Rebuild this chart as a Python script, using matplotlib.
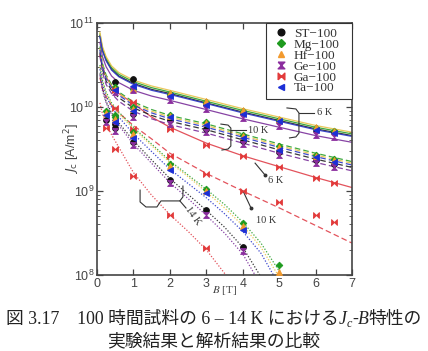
import matplotlib.pyplot as plt
from matplotlib.lines import Line2D

plt.rcParams['font.family'] = ['Liberation Sans', 'DejaVu Sans']

# samples, legend and colours
samples = ["ST-100", "Mg-100", "Hf-100", "Ge-100", "Ga-100", "Ta-100"]
legend_labels = ["ST\u2212100", "Mg\u2212100", "Hf\u2212100", "Ge\u2212100", "Ga\u2212100", "Ta\u2212100"]
mark_colors = ["#111111", "#1e9a1e", "#f29a2e", "#8b2d9e", "#e23a3a", "#1c2fd6"]
line_colors = ["#222222", "#2aa02a", "#e8c24a", "#7a2f9a", "#e0404a", "#2a36c8"]
bowtie = [(-1, -1), (-1, 1), (1, -1), (1, 1), (-1, -1)]
hourglass = [(-1, 1), (1, 1), (-1, -1), (1, -1), (-1, 1)]
markers = ["o", "D", "^", hourglass, bowtie, "<"]
msizes = [4.2, 3.4, 4.2, 4.2, 4.2, 4.2]

nan = float("nan")

# analysis results, Jc in 1e9 A/m^2
b_fit = [0.08, 0.15, 0.25, 0.4, 0.6, 1.0, 1.5, 2, 3, 4, 5, 6, 7]
fit_6k = {
    "ST-100": [70.8, 47.9, 36.3, 28.2, 23.4, 19.1, 16.2, 14.5, 11.2, 8.71, 6.92, 5.50, 4.57],
    "Mg-100": [74.1, 50.1, 38.0, 29.5, 24.5, 20.0, 17.0, 15.1, 11.7, 9.12, 7.24, 5.75, 4.79],
    "Hf-100": [77.6, 52.5, 39.8, 30.9, 25.7, 20.9, 17.8, 15.8, 12.3, 9.55, 7.59, 6.03, 5.01],
    "Ge-100": [58.9, 39.8, 30.2, 23.4, 19.5, 15.8, 13.5, 12.0, 9.33, 7.24, 5.75, 4.57, 3.80],
    "Ga-100": [41.7, 30.2, 22.9, 17.8, 14.5, 11.0, 7.59, 5.75, 3.72, 2.63, 1.95, 1.45, 1.10],
    "Ta-100": [69.2, 46.8, 35.5, 27.5, 22.9, 18.6, 15.8, 14.1, 11.0, 8.51, 6.76, 5.37, 4.47],
}
fit_10k = {
    "ST-100": [44.7, 28.2, 20.4, 15.8, 12.9, 9.77, 7.94, 6.76, 5.37, 4.07, 3.09, 2.40, 1.91],
    "Mg-100": [52.5, 33.1, 24.0, 18.6, 15.1, 11.5, 9.33, 7.94, 6.31, 4.79, 3.63, 2.82, 2.24],
    "Hf-100": [50.1, 31.6, 22.9, 17.8, 14.5, 11.0, 8.91, 7.59, 6.03, 4.57, 3.47, 2.69, 2.14],
    "Ge-100": [40.7, 25.7, 18.6, 14.5, 11.7, 8.91, 7.24, 6.17, 4.90, 3.72, 2.82, 2.19, 1.74],
    "Ga-100": [22.4, 16.6, 13.2, 10.5, 8.51, 6.03, 4.17, 2.82, 1.62, 1.00, 0.631, 0.389, 0.240],
    "Ta-100": [47.9, 30.2, 21.9, 17.0, 13.8, 10.5, 8.51, 7.24, 5.75, 4.37, 3.31, 2.57, 2.04],
}
b_fit_14k = [0.08, 0.15, 0.25, 0.4, 0.6, 1.0, 1.5, 2, 2.5, 3, 3.5, 4, 4.5, 5, 5.3]
fit_14k = {
    "ST-100": [25.1, 16.6, 11.7, 8.51, 6.46, 3.98, 2.34, 1.41, 0.912, 0.589, 0.372, 0.214, 0.095, 0.032, 0.016],
    "Mg-100": [31.6, 20.9, 15.1, 11.2, 8.71, 5.75, 3.63, 2.29, 1.55, 1.05, 0.692, 0.427, 0.240, 0.112, 0.063],
    "Hf-100": [30.2, 20.0, 14.5, 10.7, 8.32, 5.50, 3.47, 2.19, 1.48, 0.977, 0.631, 0.389, 0.214, 0.095, 0.050],
    "Ge-100": [24.0, 15.8, 11.2, 8.13, 6.03, 3.63, 2.14, 1.26, 0.813, 0.513, 0.316, 0.178, 0.076, 0.025, 0.013],
    "Ga-100": [11.2, 8.32, 6.31, 4.68, 3.31, 1.66, 0.891, 0.525, 0.331, 0.200, 0.105, 0.050, 0.025, 0.013, 0.010],
    "Ta-100": [28.2, 18.6, 13.5, 10.0, 7.59, 4.79, 2.95, 1.82, 1.23, 0.832, 0.537, 0.331, 0.182, 0.076, 0.040],
}

# experimental results, Jc in 1e9 A/m^2
b_meas = [0.5, 1, 2, 3, 4, 5, 6, 6.5]
meas_6k = {
    "ST-100": [20.0, 21.4, 13.8, 11.0, 8.51, 6.76, 5.37, 5.01],
    "Mg-100": [17.4, 16.2, 14.1, 11.5, 8.91, 7.08, 5.62, 5.13],
    "Hf-100": [16.6, 16.6, 14.5, 11.7, 9.12, 7.24, 5.75, 5.25],
    "Ge-100": [15.1, 15.8, 12.0, 9.55, 7.41, 5.89, 4.68, 4.37],
    "Ga-100": [15.8, 11.5, 5.50, 3.55, 2.63, 1.95, 1.41, 1.26],
    "Ta-100": [15.8, 17.8, 13.5, 10.7, 8.32, 6.76, 5.37, 4.90],
}
meas_10k = {
    "ST-100": [6.31, 8.32, 6.92, 5.50, 3.98, 2.88, 2.34, 2.09],
    "Mg-100": [7.94, 10.0, 7.94, 6.61, 4.68, 3.39, 2.69, 2.40],
    "Hf-100": [7.59, 9.55, 7.76, 6.46, 4.57, 3.31, 2.63, 2.34],
    "Ge-100": [6.03, 7.59, 6.31, 5.01, 3.63, 2.69, 2.14, 1.91],
    "Ga-100": [9.77, 5.50, 2.63, 1.58, 1.00, 0.741, 0.513, 0.427],
    "Ta-100": [7.08, 8.91, 7.59, 6.17, 4.27, 3.09, 2.51, 2.24],
}
b_meas_14k = [0.25, 0.5, 1, 2, 3, 4, 5]
meas_14k = {
    "ST-100": [7.08, 5.62, 3.80, 1.35, 0.589, 0.214, nan],
    "Mg-100": [8.91, 7.59, 5.01, 2.09, 1.05, 0.417, 0.132],
    "Hf-100": [8.51, 7.24, 4.79, 2.00, 1.00, 0.380, 0.110],
    "Ge-100": [6.61, 5.25, 3.55, 1.26, 0.525, 0.191, nan],
    "Ga-100": [5.62, 3.16, 1.51, 0.513, 0.209, nan, nan],
    "Ta-100": [7.94, 6.61, 4.27, 1.78, 0.955, 0.347, nan],
}

fig = plt.figure(figsize=(4.28, 3.51), dpi=100)
ax = fig.add_axes([0.2266, 0.2165, 0.5958, 0.7179])

styles = [(fit_6k, b_fit, "-"), (fit_10k, b_fit, (0, (4.5, 2.5))), (fit_14k, b_fit_14k, (0, (1, 1.4)))]
for fits, bb, ls in styles:
    for i, s in enumerate(samples):
        ax.plot(bb, [v * 1e9 for v in fits[s]], ls=ls, lw=0.9, color=line_colors[i], alpha=0.9, zorder=2)

for meas, bb in [(meas_6k, b_meas), (meas_10k, b_meas), (meas_14k, b_meas_14k)]:
    for i, s in enumerate(samples):
        ax.plot(bb, [v * 1e9 for v in meas[s]], ls="none", marker=markers[i], ms=msizes[i],
                color=mark_colors[i], mec=mark_colors[i], mew=0.6, zorder=3)

ax.set_yscale("log")
ax.set_xlim(0, 7)
ax.set_ylim(1e8, 1e11)
ax.set_xticks(range(8))
ax.tick_params(which="both", direction="in", top=True, right=True, color="#444444",
               labelsize=9, labelcolor="#444444", pad=2)
ax.tick_params(which="major", length=4, width=0.9)
ax.tick_params(which="minor", length=2, width=0.6)
for sp in ax.spines.values():
    sp.set_color("#444444")
    sp.set_linewidth(1.2)

ax.set_ylabel(r"$J_\mathrm{c}$ [A/m$^2$]", fontsize=9, color="#444444", math_fontfamily="dejavusans")
ax.yaxis.set_label_coords(-0.06, 0.5)
ax.set_xlabel(r"$B$ [T]", fontsize=8, color="#444444", family="Liberation Serif", math_fontfamily="stix")
ax.xaxis.set_label_coords(0.502, -0.035)

handles = [Line2D([], [], ls="none", marker=markers[i], ms=msizes[i] + 0.6, color=mark_colors[i])
           for i in range(len(samples))]
leg = ax.legend(handles, legend_labels, loc="upper right", bbox_to_anchor=(0.663, 0.0, 0.337, 1.0),
                mode="expand", borderaxespad=0, fancybox=False,
                edgecolor="#333333", framealpha=1, handlelength=1.6, handletextpad=0.15,
                borderpad=0.35, labelspacing=-0.1, prop={"family": "Liberation Serif", "size": 9.5})
leg.get_frame().set_linewidth(0.8)
for t in leg.get_texts():
    t.set_color("#333333")

# annotations
ann = dict(transform=ax.transAxes, color="#333333", lw=0.8, clip_on=False)
ax.plot([0.745, 0.780, 0.792, 0.792, 0.780, 0.755], [0.663, 0.659, 0.643, 0.563, 0.548, 0.544], **ann)
ax.plot([0.792, 0.851], [0.643, 0.643], **ann)
ax.text(0.863, 0.643, "6 K", transform=ax.transAxes, family="Liberation Serif", fontsize=7.5,
        color="#333333", ha="left", va="center")

ax.plot([0.486, 0.514, 0.525, 0.525, 0.514, 0.490], [0.599, 0.595, 0.583, 0.512, 0.500, 0.496], **ann)
ax.plot([0.525, 0.584], [0.575, 0.575], **ann)
ax.text(0.592, 0.575, "10 K", transform=ax.transAxes, family="Liberation Serif", fontsize=7.5,
        color="#333333", ha="left", va="center")

ax.plot([0.620, 0.659], [0.444, 0.397], **ann)
ax.plot([0.659], [0.397], marker="o", ms=1.8, color="#333333", transform=ax.transAxes)
ax.text(0.671, 0.377, "6 K", transform=ax.transAxes, family="Liberation Serif", fontsize=7.5,
        color="#333333", ha="left", va="center")

ax.plot([0.573, 0.604], [0.333, 0.266], **ann)
ax.plot([0.604], [0.266], marker="o", ms=1.8, color="#333333", transform=ax.transAxes)
ax.text(0.624, 0.218, "10 K", transform=ax.transAxes, family="Liberation Serif", fontsize=7.5,
        color="#333333", ha="left", va="center")

ax.plot([0.169, 0.169, 0.192, 0.235, 0.251, 0.325, 0.337, 0.337],
        [0.337, 0.290, 0.270, 0.270, 0.294, 0.294, 0.310, 0.353], **ann)
ax.plot([0.325, 0.349], [0.294, 0.266], **ann)
ax.text(0.376, 0.234, "14 K", transform=ax.transAxes, family="Liberation Serif", fontsize=7.5,
        color="#333333", ha="center", va="center", rotation=-55)

# caption, first line laid out piece by piece so the CJK fallback works
cap_font = ["Liberation Serif", "Noto Sans CJK JP"]
cap_size = 12.8
pieces = [
    ("図 3.17\u3000100 時間試料の 6 \u2013 14 K における", {}, 0.0),
    ("J", {"style": "italic"}, 0.0),
    ("c", {"style": "italic", "fontsize": 8.7}, -0.011),
    ("-", {}, 0.0),
    ("B", {"style": "italic"}, 0.0),
    ("特性の", {}, 0.0),
]
renderer = fig.canvas.get_renderer()
cap_texts = []
total = 0.0
for s, kw, dy in pieces:
    opts = {"family": cap_font, "fontsize": cap_size, "color": "#222222", "va": "baseline", "ha": "left"}
    opts.update(kw)
    t = fig.text(0, 0.078 + dy, s, **opts)
    w = t.get_window_extent(renderer).width / fig.bbox.width
    cap_texts.append((t, w))
    total += w
x = 0.5 - total / 2
for t, w in cap_texts:
    t.set_x(x)
    x += w
fig.text(0.5, 0.026, "実験結果と解析結果の比較", family=cap_font, fontsize=cap_size, color="#222222",
         ha="center", va="center")

fig.savefig("out.png", dpi=100)
